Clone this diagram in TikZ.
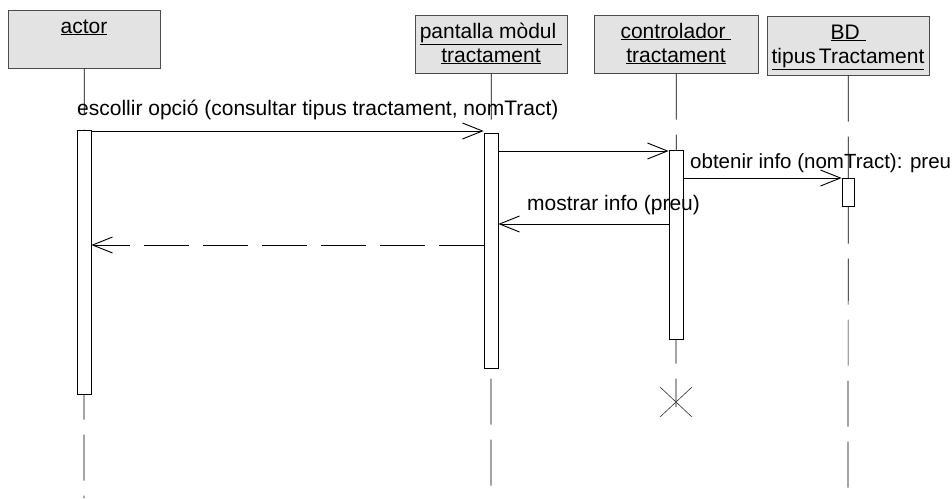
\documentclass[tikz,border=0pt]{standalone}
\usepackage{fontspec}
\setmainfont{Liberation Sans}
\usetikzlibrary{arrows.meta}
\begin{document}
\begin{tikzpicture}[x=1pt,y=-1pt,
  objbox/.style={draw=black!70, line width=0.6pt, fill=black!11, inner sep=0pt, anchor=north west},
  act/.style={draw=black, line width=0.7pt, fill=white, minimum width=14pt, inner sep=0pt, anchor=north},
  lifeline/.style={line width=0.7pt, dash pattern=on 46pt off 15pt},
  msg/.style={line width=0.7pt, -{Straight Barb[length=20pt,width=16pt,line width=0.9pt]}},
  retmsg/.style={msg, dash pattern=on 45pt off 14pt},
  lbl/.style={anchor=base, inner sep=0pt, font=\fontsize{21}{24}\selectfont},
  mlbl/.style={anchor=base west, inner sep=0pt, font=\fontsize{21}{24}\selectfont},
  crossln/.style={line width=0.6pt, draw=black!80}]
\useasboundingbox (0,0) rectangle (952,498);

% object boxes
\node[objbox, minimum width=152pt, minimum height=58pt] (bA) at (8,10) {};
\node[objbox, minimum width=152pt, minimum height=58pt] (bP) at (415,15) {};
\node[objbox, minimum width=164pt, minimum height=58pt] (bC) at (594,15) {};
\node[objbox, minimum width=162pt, minimum height=59pt] (bD) at (767,16) {};

\node[lbl] (lA) at (84,33) {\underline{actor}};
\node[lbl] (lP1) at (491,38) {\underline{pantalla mòdul\ }};
\node[lbl] (lP2) at (491,62) {\underline{tractament}};
\node[lbl] (lC1) at (676,38) {\underline{controlador\ }};
\node[lbl] (lC2) at (676,62) {\underline{tractament}};
\node[lbl] (lD1) at (848,39) {\underline{BD\ }};
\node[lbl] (lD2) at (848,63) {\underline{tipus\kern3pt Tractament}};

% lifeline ends
\coordinate (eA) at (84,498);
\coordinate (eP) at (491,486);
\coordinate (eC) at (676,407);
\coordinate (eD) at (848,488);

\draw[lifeline] (bA.south) -- (eA);
\draw[lifeline] (bP.south) -- (eP);
\draw[lifeline] (bC.south) -- (eC);
\draw[lifeline] (bD.south) -- (eD);

% activations
\node[act, minimum height=264pt] (aA) at (84,130) {};
\node[act, minimum height=235pt] (aP) at (491,133) {};
\node[act, minimum height=189pt] (aC) at (676,150) {};
\node[act, minimum height=28pt, minimum width=12pt] (aD) at (848,178) {};

% destruction
\coordinate (xc) at (676,402);
\draw[crossln] ([shift={(-16,-15)}]xc) -- ([shift={(16,15)}]xc);
\draw[crossln] ([shift={(-16,15)}]xc) -- ([shift={(16,-15)}]xc);

% message levels
\coordinate (m1) at (0,131);
\coordinate (m2) at (0,151);
\coordinate (m3) at (0,178);
\coordinate (m4) at (0,224);
\coordinate (m5) at (0,245);

\draw[msg] (aA.east |- m1) -- (aP.west |- m1);
\draw[msg] (aP.east |- m2) -- (aC.west |- m2);
\draw[msg] (aC.east |- m3) -- (aD.west |- m3);
\draw[msg] (aC.west |- m4) -- (aP.east |- m4);
\draw[retmsg] (aP.west |- m5) -- (aA.east |- m5);

% message labels
\node[mlbl] (t1) at (77,115) {escollir opció (consultar tipus tractament, nomTract)};
\node[mlbl, font=\fontsize{20.5}{24}\selectfont] (t3) at (690,168) {obtenir info (nomTract): preu};
\node[mlbl] (t4) at (527,210) {mostrar info (preu)};
\end{tikzpicture}
\end{document}
